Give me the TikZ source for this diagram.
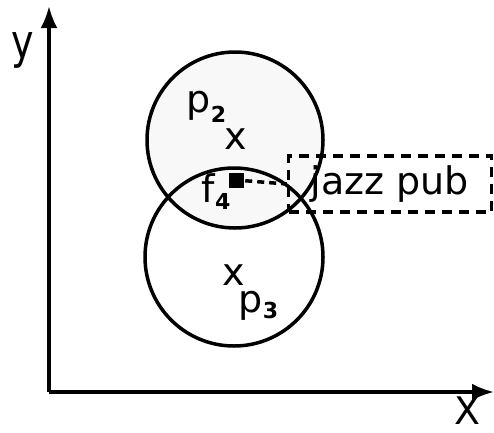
\documentclass[tikz,border=0pt]{standalone}
\usepackage{fontspec}
\setmainfont{DejaVu Sans}
\usetikzlibrary{arrows.meta, positioning}
\definecolor{pubfill}{RGB}{248, 248, 248}
\newcommand{\bigtxt}{\fontsize{38}{40}\selectfont}
\newcommand{\subtxt}{\fontsize{22}{22}\selectfont\bfseries}

\begin{document}
\begin{tikzpicture}[x=1pt, y=-1pt, line width=3.5pt,
  region/.style={draw, circle, inner sep=0pt, line width=3.5pt},
  lbl/.style={inner sep=0pt, font=\bigtxt},
  dashbox/.style={draw, dashed, dash pattern=on 10pt off 7pt, line width=3.5pt,
    minimum width=203pt, minimum height=56pt, inner sep=0pt, font=\bigtxt}]

  \useasboundingbox (0,0) rectangle (494,432);

  % --- axes ---
  \coordinate (origin) at (49,392);
  \coordinate (ytip) at (49,6);
  \coordinate (xtip) at (494,392);
  \draw[-{Latex[length=22pt, width=17pt]}] (origin) -- (ytip);
  \draw[-{Latex[length=22pt, width=17pt]}] (origin) -- (xtip);
  \node[lbl] (ylab) at (23,50) {\scalebox{1}[1.25]{y}};
  \node[lbl] (xlab) at (468,411) {X};

  % --- regions p2 and p3 ---
  \node[region, fill=pubfill, minimum size=176pt] (ptwo) at (235,140) {};
  \node[region, minimum size=178pt] (pthree) at (234,257) {};

  % --- centres and names ---
  \node[lbl] (ctwo) at (236,139) {x};
  \node[lbl] (cthree) at (234,275) {x};
  \node[lbl, anchor=base west] (ptwolab) at (185,112)
    {p\raisebox{-10pt}{\subtxt 2}};
  \node[lbl, anchor=base west] (pthreelab) at (237,312)
    {p\raisebox{-6pt}{\subtxt 3}};

  % --- the pub f4 ---
  \node[fill=black, minimum size=15pt, inner sep=0pt] (ffour) at (236,180) {};
  \node[lbl, anchor=base west] (ffourlab) at (200,202)
    {f\raisebox{-7pt}{\subtxt 4}};
  \node[dashbox] (pub) at (390,184) {jazz pub};
  \draw[dashed, dash pattern=on 7pt off 5pt] (ffour) -- (pub.west);

\end{tikzpicture}
\end{document}
